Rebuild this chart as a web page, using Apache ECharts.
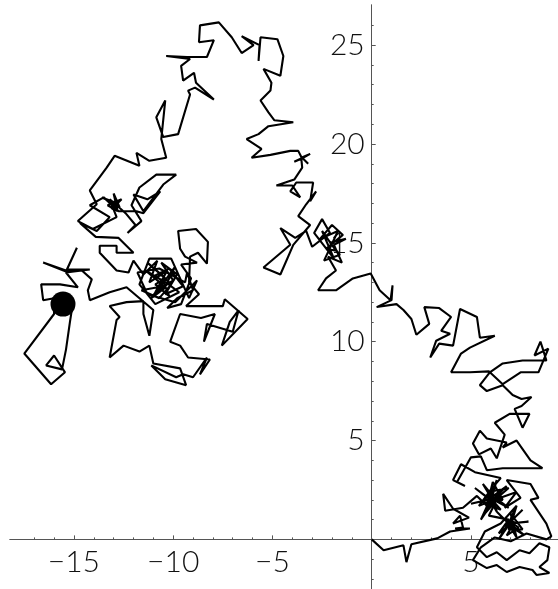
<!DOCTYPE html>
<html><head><meta charset="utf-8">
<script src="https://cdn.jsdelivr.net/npm/echarts@6/dist/echarts.min.js"></script>
<style>html,body{margin:0;padding:0;background:#fff}#c{width:558px;height:589px}</style>
</head><body><div id="c"></div>
<script>
// Random-walk path (data units), in drawing order.
const segBottomRight = [
[0,0],[0.6,-0.55],[1.6,-0.3],[1.75,-1.15],[2.0,-0.25],[3.3,0.05],[3.95,0.4],[4.95,0.55],[4.2,0.55],[4.6,0.6],[4.45,1.2],[4.1,0.8],[4.9,1.1],[4.1,1.55],[3.6,2.3],[3.7,1.45],[4.6,1.6],[5.3,2.2],[5.9,1.6],[6.2,2.6],[5.6,1.9],[6.5,1.5],[5.8,2.3],[6.3,1.4],[6.0,2.5],[5.4,1.7],[6.4,2.1],[5.7,1.3],[6.1,2.9],[6.6,2.0],
[6.0,2.0],[5.2,2.6],[6.1,1.9],[5.5,1.0],[6.0,2.1],[6.8,2.7],[6.0,1.9],[6.3,3.0],[5.9,2.0],[5.0,1.8],[6.05,2.05],[6.9,1.6],[6.1,2.2],[5.6,2.8],[6.2,1.8],
[5.9,1.2],[6.9,1.0],[6.4,0.3],[7.2,0.9],[6.8,0.2],[7.4,0.6],[6.7,1.1],[7.3,0.1],[7.0,1.3],[7.6,0.5],[6.9,0.5],[7.2,1.5],
[6.9,0.8],[7.6,1.5],[6.85,0.75],[7.7,0.2],[6.9,0.85],[6.4,0.0],[6.95,0.8],[7.9,0.9],[6.9,0.8],[6.3,1.4],[7.0,0.7],[7.3,1.7],
[6.5,0.8],[5.7,0.4],[5.3,-0.4],[5.8,-0.9],[6.3,-0.65],[6.8,-1.05],[7.45,-0.55],[7.95,-0.7],[8.45,-0.2],[8.95,-0.4],[8.85,-1.05],[8.45,-1.4],[8.95,-1.7],[8.3,-1.8],[8.1,-1.55],[7.45,-1.4],[6.8,-1.65],[6.3,-1.3],[5.8,-1.45],[5.1,-1.05],[5.5,-0.4],[6.2,0.1],[7.0,-0.1],[7.8,0.3],[8.8,0.0],[9.05,0.15],[8.8,0.8],[8.0,2.0],[8.4,2.1],[8.0,2.8],[6.8,3.0],[7.5,2.1],[6.7,1.6],[7.3,2.4],[6.2,2.0],[6.9,2.6],[5.9,2.4],[6.5,3.1],[5.2,3.4],[4.5,3.8],[4.1,3.0],[4.7,2.7],[4.3,2.9],[5.0,4.15],[5.5,4.2],[5.8,3.5],[6.6,3.6],[7.8,3.6],[8.6,3.6],[8.0,4.0],[7.3,5.0],[6.6,4.65],[6.8,4.9],[5.8,5.1],[5.45,5.5],[5.1,4.85],[5.4,4.3],[6.0,4.6],[6.3,4.1],[6.7,5.3],[6.2,5.9],[6.95,6.35],[7.95,6.35],[7.6,5.65],[7.2,6.6],[7.55,6.75],[8.05,7.2],[7.55,7.1],[7.1,7.3],[6.6,7.8],[5.8,7.5],[5.45,7.8],[5.95,8.45],[6.6,8.9],[7.6,9.05],[8.8,9.05],[8.6,9.7],[8.5,10.0],[8.2,9.3],[8.9,9.65],[8.4,8.45],[7.5,8.45],[6.6,7.85],[5.9,8.5],[4.95,8.45],[4.0,8.45],[4.5,9.4],[4.95,9.7],[6.2,10.3],[5.45,10.2],[5.3,11.25],[4.45,11.65],[4.1,9.8],[3.4,9.9],[2.95,9.2],[3.25,10.05],[3.95,10.4],[3.5,10.55],[4.0,11.25],[3.4,11.7],[2.65,11.75],[2.9,10.9],[2.25,10.35],[2.0,11.15],[1.6,11.6],[1.25,11.9],[0.25,11.75],[1.0,12.1],[1.05,12.85],[0.95,12.1],[0.4,12.6],[-0.05,13.45]
];
const segCenterTop = [
[-0.95,13.2],[-1.8,12.6],[-2.7,12.6],[-2.3,13.2],[-1.8,13.6],[-2.2,14.3],[-1.5,14.0],[-1.9,14.9],[-1.3,15.2],[-2.1,15.0],[-1.6,14.4],[-2.4,14.1],[-1.7,15.6],[-2.6,15.2],[-2.0,15.9],[-1.45,15.4],[-2.3,14.7],[-1.8,14.6],[-2.5,15.6],[-1.9,14.2],[-2.9,15.5],[-2.5,16.2],[-2.1,15.5],[-3.0,14.8],[-3.3,15.6],[-3.85,15.25],[-4.6,15.75],[-4.1,14.9],[-5.45,13.75],[-4.6,13.4],[-3.95,14.9],[-3.1,15.9],[-3.7,16.35],[-3.3,16.95],[-2.8,17.6],[-3.1,17.1],[-2.95,18.05],[-3.45,18.05],[-3.8,18.05],[-4.1,17.6],[-3.6,17.3],[-4.0,17.9],[-4.8,17.9],[-3.9,18.2],[-3.5,18.8],[-3.55,19.3],[-3.1,19.5],[-3.55,19.25],[-3.9,19.1],[-3.5,19.3],[-3.2,19.0],[-3.55,19.35],[-3.7,19.65],[-4.1,19.65],[-5.1,19.45],[-6.05,19.3],[-5.55,19.75],[-6.3,20.25],[-5.7,20.5],[-5.2,20.9],[-3.95,21.1],[-4.9,21.2],[-5.2,21.6],[-5.6,22.2],[-5.1,22.7],[-5.05,23.1],[-5.45,23.8],[-4.6,23.45],[-4.45,24.45],[-4.75,25.3],[-5.6,25.4],[-5.7,24.2],[-5.65,25.0],[-6.55,25.45],[-5.95,25.0],[-6.55,24.6],[-7.05,25.4],[-7.7,26.15],[-8.65,26.0],[-8.7,25.15],[-7.95,25.25],[-8.3,24.4],[-9.3,24.4],[-10.35,24.45],[-9.15,24.3],[-9.6,23.95],[-9.5,23.2],[-8.95,23.6],[-8.85,23.1],[-7.95,22.25],[-8.9,22.85],[-9.25,22.7],[-9.15,22.5],[-9.75,20.5],[-10.5,20.35],[-10.85,21.35],[-10.4,22.2],[-10.6,20.25],[-10.35,19.3],[-11.2,19.15],[-11.85,19.55],[-11.7,18.9],[-12.95,19.4],[-13.35,18.8],[-14.2,17.65],[-13.85,16.95],[-14.8,16.1],[-14.05,15.7],[-12.85,16.3],[-13.2,17.2],[-12.7,16.8],[-13.0,17.5],[-12.8,16.6],[-13.3,16.9],[-12.6,17.2],[-13.1,16.7],[-12.95,17.05],[-13.6,17.3],[-12.9,16.95],[-12.4,16.5],[-11.9,15.9],[-12.3,15.5],[-11.6,16.1],[-12.1,16.9],[-11.7,17.8],[-10.85,18.45],[-9.85,18.45],[-10.5,17.95],[-11.5,16.6],[-12.0,17.45],[-11.3,17.2],[-10.65,17.6],[-11.5,16.5],[-11.85,16.6],[-12.75,16.6],[-13.5,17.3],[-14.2,16.9],[-13.2,16.3],[-13.85,15.6],[-14.7,16.0],[-13.9,15.3],[-12.75,15.25]
];
const segLeft = [
[-12.0,14.5],[-12.85,14.5],[-12.85,14.85],[-13.7,14.85],[-13.7,14.5],[-12.85,13.6],[-12.25,13.5],[-12.0,14.1],[-11.5,13.4],[-10.8,14.1],[-11.2,13.0],[-10.3,13.6],[-10.9,12.5],[-10.0,13.1],[-10.6,14.0],[-9.8,13.4],[-10.4,12.4],[-9.5,12.8],[-10.2,13.7],[-11.0,13.3],[-10.5,12.8],[-11.6,12.6],[-10.7,12.2],[-10.1,12.9],
[-10.6,13.4],[-11.3,14.0],[-10.4,13.2],[-10.9,12.9],[-10.2,12.3],[-10.5,13.05],[-11.1,12.2],[-10.45,12.7],[-9.9,13.8],[-10.55,12.9],[-11.4,13.6],[-10.3,12.95],[-9.7,12.5],
[-10.9,11.9],[-11.7,12.9],[-11.2,14.2],[-10.1,14.2],[-9.2,12.2],[-8.8,13.1],[-9.9,12.0],[-11.3,12.4],[-11.8,13.5],[-10.7,13.7],[-9.4,13.0],
[-9.3,13.5],[-9.0,12.6],[-9.8,12.2],[-10.3,11.7],[-9.6,11.9],[-9.1,13.2],[-9.6,13.9],[-8.8,14.0],[-9.4,14.3],[-9.65,14.7],[-9.75,15.6],[-8.85,15.7],[-8.25,15.05],[-8.3,13.95],[-8.75,14.5],[-9.15,14.3],[-9.2,13.0],[-8.7,12.4],[-9.35,11.8],[-8.3,11.8],[-7.5,11.8],[-7.4,12.15],[-6.25,11.15],[-7.55,9.8],[-7.15,11.0],[-6.7,11.6],[-7.0,10.5],[-8.3,10.9],[-8.45,10.0],[-7.9,11.4],[-8.6,11.2],[-9.65,11.4],[-10.15,10.0],[-9.65,9.8],[-9.25,9.2],[-8.15,9.1],[-8.65,8.35],[-8.3,9.2],[-9.0,8.2],[-9.5,8.35],[-9.85,8.2],[-11.1,8.8],[-10.4,8.1],[-9.35,7.8],[-9.65,8.65],[-11.0,8.9],[-11.2,9.8],[-11.7,9.5],[-12.5,9.8],[-13.2,9.2],[-12.85,11.1],[-12.7,11.25],[-13.2,11.8],[-12.35,12.0],[-11.5,12.05],[-11.5,11.4],[-11.2,10.3],[-11.0,11.6],[-12.35,12.75],[-13.2,12.5],[-14.2,12.1],[-14.3,12.6],[-14.1,13.15],[-14.6,13.6],[-15.4,13.6],[-16.55,14.0],[-15.4,13.55],[-14.85,14.75],[-15.35,13.65],[-14.2,13.65],[-15.4,13.5],[-14.8,12.75],[-15.7,12.9],[-16.65,12.9],[-16.55,12.1],[-16.0,12.2],[-16.0,11.4],[-17.5,9.4],[-16.15,7.85],[-15.45,8.45],[-16.0,9.3],[-16.4,8.8],[-15.6,8.6],[-15.4,9.6],[-15.2,11.0],[-15.1,11.65],[-15.55,11.9]
];
const endPoint = [-15.55, 11.9];

const xMajorTicks = [-15, -10, -5, 5];
const xMinorTicks = [-17,-16,-14,-13,-12,-11,-9,-8,-7,-6,-4,-3,-2,-1,1,2,3,4,6,7,8,9];
const yMajorTicks = [5, 10, 15, 20, 25];
const yMinorTicks = [-2,-1,1,2,3,4,6,7,8,9,11,12,13,14,16,17,18,19,21,22,23,24,26];
const xRange = [-18.22, 9.385];
const yRange = [-2.51, 27.03];

const path = segBottomRight.concat(segCenterTop, segLeft);

const W = 558, H = 589;
const G = { left: 10, right: 0, top: 5, bottom: 0 };
// where the zero lines fall inside the plot grid (used only to place the label-carrying axes)
const zeroX = G.left + (0 - xRange[0]) / (xRange[1] - xRange[0]) * (W - G.left - G.right);
const zeroY = G.top + (yRange[1] - 0) / (yRange[1] - yRange[0]) * (H - G.top - G.bottom);

const fmt = v => String(v).replace('-', '\u2212');
const labelFont = { fontFamily: 'Lato', fontWeight: 300, fontSize: 30, color: '#111' };
const axisColor = '#555';
const hidden = (rng, gi) => ({ type: 'value', gridIndex: gi, min: rng[0], max: rng[1], show: false });

function lineAxes(dim) {
  const isX = dim === 'x';
  const rng = isX ? xRange : yRange;
  const pos = isX ? 'bottom' : 'left';
  return [
    { type: 'value', gridIndex: 0, min: rng[0], max: rng[1], position: pos,
      axisLine: { show: true, onZero: true, lineStyle: { color: axisColor, width: 1 } },
      axisTick: { show: true, inside: true, length: 4, customValues: isX ? xMajorTicks : yMajorTicks, lineStyle: { color: axisColor } },
      axisLabel: { show: false }, splitLine: { show: false } },
    { type: 'value', gridIndex: 0, min: rng[0], max: rng[1], position: pos,
      axisLine: { show: true, onZero: true, onZeroAxisIndex: 0, lineStyle: { color: axisColor, width: 1 } },
      axisTick: { show: true, inside: true, length: 2, customValues: isX ? xMinorTicks : yMinorTicks, lineStyle: { color: axisColor } },
      axisLabel: { show: false }, splitLine: { show: false } }
  ];
}
const labelAxisX = { type: 'value', gridIndex: 2, min: xRange[0], max: xRange[1], position: 'bottom',
  axisLine: { show: false }, axisTick: { show: false }, splitLine: { show: false },
  axisLabel: Object.assign({ show: true, customValues: xMajorTicks, formatter: fmt, margin: 8 }, labelFont) };
const labelAxisY = { type: 'value', gridIndex: 1, min: yRange[0], max: yRange[1], position: 'left',
  axisLine: { show: false }, axisTick: { show: false }, splitLine: { show: false },
  axisLabel: Object.assign({ show: true, customValues: yMajorTicks, formatter: fmt, margin: 7 }, labelFont) };

const chart = echarts.init(document.getElementById('c'), null, { renderer: 'canvas' });
chart.setOption({
  animation: false,
  backgroundColor: '#fff',
  grid: [
    Object.assign({ containLabel: false }, G),
    { left: zeroX, right: G.right, top: G.top, bottom: G.bottom, containLabel: false },
    { left: G.left, right: G.right, top: G.top, bottom: H - zeroY, containLabel: false }
  ],
  xAxis: lineAxes('x').concat([hidden([0, xRange[1]], 1), labelAxisX]),
  yAxis: lineAxes('y').concat([labelAxisY, hidden([0, yRange[1]], 2)]),
  series: [
    { type: 'line', data: path, xAxisIndex: 0, yAxisIndex: 0, symbol: 'none', showSymbol: false,
      lineStyle: { color: '#000', width: 2.1 }, silent: true, z: 3 },
    { type: 'scatter', data: [endPoint], xAxisIndex: 0, yAxisIndex: 0, symbol: 'circle', symbolSize: 25,
      itemStyle: { color: '#000', opacity: 1 }, silent: true, z: 4 }
  ]
});
</script>
</body></html>
